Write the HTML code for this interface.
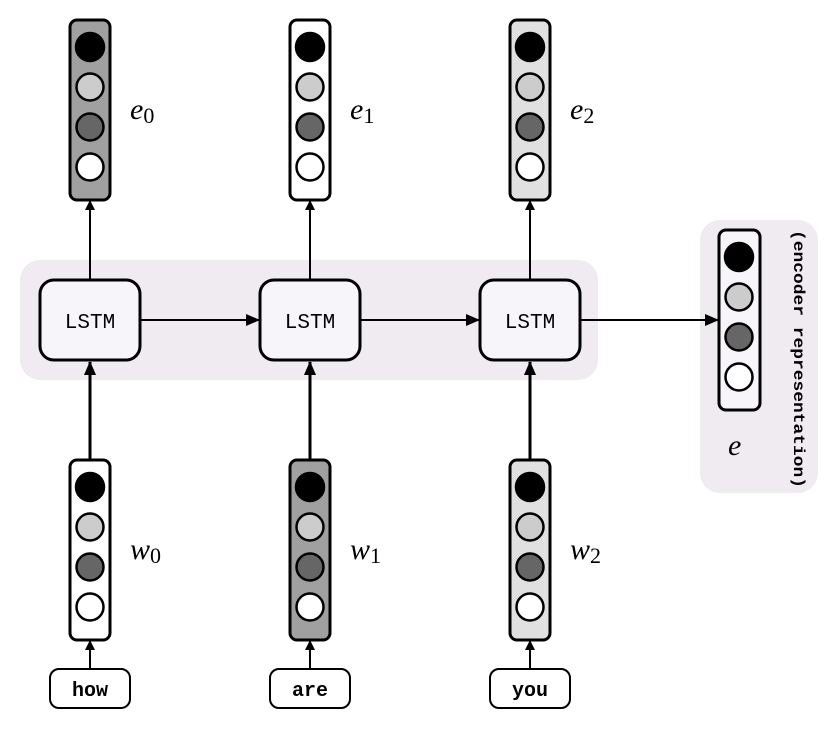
<!DOCTYPE html>
<html><head><meta charset="utf-8"><style>
html,body{margin:0;padding:0;background:#fff;}
svg{display:block;}
.m{font-family:"Liberation Mono","DejaVu Sans Mono",monospace;}
.s{font-family:"Liberation Serif",serif;font-style:italic;}
</style></head><body>
<svg width="840" height="729" viewBox="0 0 840 729" xmlns="http://www.w3.org/2000/svg">
<defs>
<marker id="a" markerWidth="10" markerHeight="10" refX="9" refY="5" orient="auto" markerUnits="userSpaceOnUse">
<path d="M0,0 L10,5 L0,10 z" fill="#000"/></marker>
<marker id="b" markerWidth="14" markerHeight="12" refX="13" refY="6" orient="auto" markerUnits="userSpaceOnUse">
<path d="M0,0 L14,6 L0,12 z" fill="#000"/></marker>
</defs>
<rect x="20" y="260" width="578" height="120" rx="20" fill="#efebf1"/>
<rect x="700" y="220" width="118" height="273" rx="20" fill="#efebf1"/>

<g id="vecs" stroke="#000">
<!-- top vectors -->
<rect x="70" y="20" width="40" height="180" rx="7" fill="#a0a0a0" stroke-width="3"/>
<rect x="290" y="20" width="40" height="180" rx="7" fill="#fff" stroke-width="3"/>
<rect x="510" y="20" width="40" height="180" rx="7" fill="#e0e0e0" stroke-width="3"/>
<!-- bottom vectors -->
<rect x="70" y="460" width="40" height="180" rx="7" fill="#fff" stroke-width="3"/>
<rect x="290" y="460" width="40" height="180" rx="7" fill="#a0a0a0" stroke-width="3"/>
<rect x="510" y="460" width="40" height="180" rx="7" fill="#e0e0e0" stroke-width="3"/>
<!-- right vector -->
<rect x="719" y="230" width="41" height="180" rx="7" fill="#f7f5f9" stroke-width="3"/>
</g>
<g stroke="#000" stroke-width="2.5">
<circle cx="90" cy="47" r="14" fill="#000"/><circle cx="90" cy="87" r="13.5" fill="#ccc"/><circle cx="90" cy="127" r="13.5" fill="#666"/><circle cx="90" cy="167" r="13.5" fill="#fff"/>
<circle cx="310" cy="47" r="14" fill="#000"/><circle cx="310" cy="87" r="13.5" fill="#ccc"/><circle cx="310" cy="127" r="13.5" fill="#666"/><circle cx="310" cy="167" r="13.5" fill="#fff"/>
<circle cx="530" cy="47" r="14" fill="#000"/><circle cx="530" cy="87" r="13.5" fill="#ccc"/><circle cx="530" cy="127" r="13.5" fill="#666"/><circle cx="530" cy="167" r="13.5" fill="#fff"/>
<circle cx="90" cy="487" r="14" fill="#000"/><circle cx="90" cy="527" r="13.5" fill="#ccc"/><circle cx="90" cy="567" r="13.5" fill="#666"/><circle cx="90" cy="607" r="13.5" fill="#fff"/>
<circle cx="310" cy="487" r="14" fill="#000"/><circle cx="310" cy="527" r="13.5" fill="#ccc"/><circle cx="310" cy="567" r="13.5" fill="#666"/><circle cx="310" cy="607" r="13.5" fill="#fff"/>
<circle cx="530" cy="487" r="14" fill="#000"/><circle cx="530" cy="527" r="13.5" fill="#ccc"/><circle cx="530" cy="567" r="13.5" fill="#666"/><circle cx="530" cy="607" r="13.5" fill="#fff"/>
<circle cx="739" cy="257" r="14" fill="#000"/><circle cx="739" cy="297" r="13.5" fill="#ccc"/><circle cx="739" cy="337" r="13.5" fill="#666"/><circle cx="739" cy="377" r="13.5" fill="#fff"/>
</g>

<!-- LSTM boxes -->
<g stroke="#000" stroke-width="3" fill="#f7f5f9">
<rect x="40" y="280" width="100" height="80" rx="14"/>
<rect x="260" y="280" width="100" height="80" rx="14"/>
<rect x="480" y="280" width="100" height="80" rx="14"/>
</g>
<g class="m" font-size="21" text-anchor="middle">
<text x="90" y="328">LSTM</text><text x="310" y="328">LSTM</text><text x="530" y="328">LSTM</text>
</g>

<!-- word boxes -->
<g stroke="#000" stroke-width="2" fill="#fff">
<rect x="50" y="669" width="80" height="39" rx="9"/>
<rect x="270" y="669" width="80" height="39" rx="9"/>
<rect x="490" y="669" width="80" height="39" rx="9"/>
</g>
<g class="m" font-size="20" font-weight="bold" text-anchor="middle">
<text x="90" y="696">how</text><text x="310" y="696">are</text><text x="530" y="696">you</text>
</g>

<!-- arrows -->
<g stroke="#000" stroke-width="2" fill="none">
<line x1="90" y1="280" x2="90" y2="201" marker-end="url(#a)"/>
<line x1="310" y1="280" x2="310" y2="201" marker-end="url(#a)"/>
<line x1="530" y1="280" x2="530" y2="201" marker-end="url(#a)"/>
<line x1="90" y1="669" x2="90" y2="641" marker-end="url(#a)"/>
<line x1="310" y1="669" x2="310" y2="641" marker-end="url(#a)"/>
<line x1="530" y1="669" x2="530" y2="641" marker-end="url(#a)"/>
</g>
<g stroke="#000" stroke-width="3" fill="none">
<line x1="90" y1="460" x2="90" y2="362" marker-end="url(#b)"/>
<line x1="310" y1="460" x2="310" y2="362" marker-end="url(#b)"/>
<line x1="530" y1="460" x2="530" y2="362" marker-end="url(#b)"/>
</g>
<g stroke="#000" stroke-width="2" fill="none">
<line x1="140" y1="320" x2="259" y2="320" marker-end="url(#b)"/>
<line x1="360" y1="320" x2="479" y2="320" marker-end="url(#b)"/>
<line x1="580" y1="320" x2="718" y2="320" marker-end="url(#b)"/>
</g>

<!-- labels -->
<g class="s" font-size="30">
<text x="130" y="119">e<tspan font-style="normal" font-size="22" dy="4">0</tspan></text>
<text x="350" y="119">e<tspan font-style="normal" font-size="22" dy="4">1</tspan></text>
<text x="570" y="119">e<tspan font-style="normal" font-size="22" dy="4">2</tspan></text>
<text x="130" y="559">w<tspan font-style="normal" font-size="22" dy="4">0</tspan></text>
<text x="350" y="559">w<tspan font-style="normal" font-size="22" dy="4">1</tspan></text>
<text x="570" y="559">w<tspan font-style="normal" font-size="22" dy="4">2</tspan></text>
<text x="728" y="455">e</text>
</g>
<text class="m" font-size="15.5" font-weight="bold" transform="translate(794,230) rotate(90)" textLength="258" lengthAdjust="spacingAndGlyphs">(encoder representation)</text>
</svg>
</body></html>
